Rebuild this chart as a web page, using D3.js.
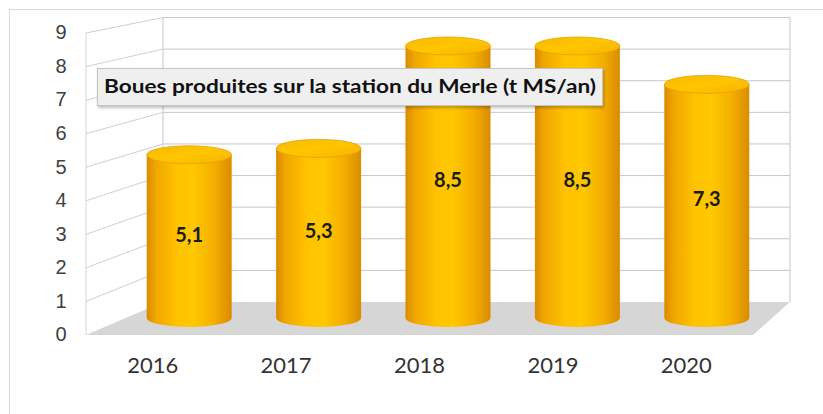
<!DOCTYPE html>
<html><head><meta charset="utf-8">
<script src="https://cdn.jsdelivr.net/npm/d3@7"></script>
<style>html,body{margin:0;padding:0;background:#fff;}svg{display:block;}</style>
</head><body>
<script>
const years = ["2016","2017","2018","2019","2020"];
const values = [5.1, 5.3, 8.5, 8.5, 7.3];
const valueLabels = ["5,1","5,3","8,5","8,5","7,3"];
const yTicks = [0,1,2,3,4,5,6,7,8,9];
const title = "Boues produites sur la station du Merle (t MS/an)";

const W = 823, H = 414;
const svg = d3.select("body").append("svg").attr("width", W).attr("height", H);

// 3D projection helpers: front plane, back plane, and bar mid plane
const yFront = d3.scaleLinear().domain([0,9]).range([335,33]);
const yBack  = d3.scaleLinear().domain([0,9]).range([302,17.5]);
const yMid   = d3.scaleLinear().domain([0,9]).range([318,30]);
const xFront = d3.scaleBand().domain(years).range([86,753]);
const xBack  = d3.scaleBand().domain(years).range([163,790]);
const barW = 85, ry = 9;

// outer frame
svg.append("rect").attr("x",9.5).attr("y",9.5).attr("width",W+5).attr("height",H+5)
  .attr("fill","#fff").attr("stroke","#d9d9d9");

const defs = svg.append("defs");
const g1 = defs.append("linearGradient").attr("id","side").attr("x1","0").attr("x2","1").attr("y1","0").attr("y2","0");
[["0%","#D98A00"],["10%","#EFA500"],["35%","#FFC200"],["55%","#FFC800"],["80%","#F3AE00"],["100%","#D98C00"]]
  .forEach(s=>g1.append("stop").attr("offset",s[0]).attr("stop-color",s[1]));
const g2 = defs.append("linearGradient").attr("id","top").attr("x1","0").attr("x2","1").attr("y1","0").attr("y2","1");
[["0%","#F9B800"],["50%","#FFC600"],["100%","#F5B200"]]
  .forEach(s=>g2.append("stop").attr("offset",s[0]).attr("stop-color",s[1]));
const sh = defs.append("filter").attr("id","shadow").attr("x","-5%").attr("y","-20%").attr("width","110%").attr("height","150%");
sh.append("feDropShadow").attr("dx",1).attr("dy",2).attr("stdDeviation",1.5).attr("flood-color","#000").attr("flood-opacity",0.25);

const x0 = xFront.range()[0], x1 = xFront.range()[1];
const bx0 = xBack.range()[0], bx1 = xBack.range()[1];

// floor
svg.append("path")
  .attr("d", `M${x0},${yFront(0)}L${bx0},${yBack(0)}L${bx1},${yBack(0)}L${x1},${yFront(0)}Z`)
  .attr("fill","#d6d6d6");

// back wall grid lines
svg.append("g").selectAll("line").data(yTicks.filter(d=>d>0)).join("line")
  .attr("x1",bx0).attr("x2",bx1).attr("y1",d=>yBack(d)).attr("y2",d=>yBack(d))
  .attr("stroke","#c6c6c6").attr("stroke-width",1);
// back wall verticals
svg.append("line").attr("x1",bx0).attr("x2",bx0).attr("y1",yBack(9)).attr("y2",yBack(0)).attr("stroke","#c6c6c6");
svg.append("line").attr("x1",bx1).attr("x2",bx1).attr("y1",yBack(9)).attr("y2",yBack(0)).attr("stroke","#c6c6c6");
// side wall grid lines
svg.append("g").selectAll("line").data(yTicks.filter(d=>d>0)).join("line")
  .attr("x1",x0).attr("x2",bx0).attr("y1",d=>yFront(d)).attr("y2",d=>yBack(d))
  .attr("stroke","#cfcfcf").attr("stroke-width",1);
svg.append("line").attr("x1",x0).attr("x2",x0).attr("y1",yFront(9)).attr("y2",yFront(0)).attr("stroke","#d6d6d6");

// y labels
svg.append("g").selectAll("text").data(yTicks).join("text")
  .attr("x",61).attr("y",d=>yFront(d)+1).attr("text-anchor","middle").attr("dominant-baseline","middle")
  .attr("font-family","Liberation Sans, Arial, sans-serif").attr("font-size",20).attr("fill","#404040")
  .text(d=>d);

// x labels
svg.append("g").selectAll("text").data(years).join("text")
  .attr("x",d=>xFront(d)+xFront.bandwidth()/2).attr("y",367).attr("text-anchor","middle").attr("dominant-baseline","middle")
  .attr("font-family","Lato, Open Sans, sans-serif").attr("font-size",22).attr("fill","#333")
  .text(d=>d);

// bars (cylinders)
const cx = d => ((xFront(d)+xFront.bandwidth()/2) + (xBack(d)+xBack.bandwidth()/2))/2;
const bars = svg.append("g").selectAll("g").data(years.map((y,i)=>({y, v:values[i], l:valueLabels[i]}))).join("g");
bars.append("path")
  .attr("d", d=>{
    const c = cx(d.y), l = c-barW/2, r = c+barW/2, yt = yMid(d.v), yb = yMid(0);
    return `M${l},${yt}L${l},${yb}A${barW/2},${ry} 0 0 0 ${r},${yb}L${r},${yt}Z`;
  })
  .attr("fill","url(#side)");
bars.append("ellipse")
  .attr("cx",d=>cx(d.y)).attr("cy",d=>yMid(d.v)).attr("rx",barW/2).attr("ry",ry)
  .attr("fill","url(#top)").attr("stroke","#E9A200").attr("stroke-width",0.8);
bars.append("text")
  .attr("x",d=>cx(d.y)).attr("y",d=>(yMid(d.v)+yMid(0))/2).attr("text-anchor","middle").attr("dominant-baseline","middle")
  .attr("font-family","Lato, Open Sans, sans-serif").attr("font-weight","bold").attr("font-size",20).attr("fill","#1a1a1a")
  .text(d=>d.l);

// title box
const tb = svg.append("g");
tb.append("rect").attr("x",97.5).attr("y",68.5).attr("width",505).attr("height",37)
  .attr("fill","#efefef").attr("stroke","#c4c4c4").attr("filter","url(#shadow)");
tb.append("text").attr("x",350).attr("y",88).attr("text-anchor","middle").attr("dominant-baseline","middle")
  .attr("font-family","Lato, Open Sans, sans-serif").attr("font-weight","bold").attr("font-size",19).attr("fill","#111")
  .attr("textLength",492).attr("lengthAdjust","spacingAndGlyphs")
  .text(title);
</script>
</body></html>
